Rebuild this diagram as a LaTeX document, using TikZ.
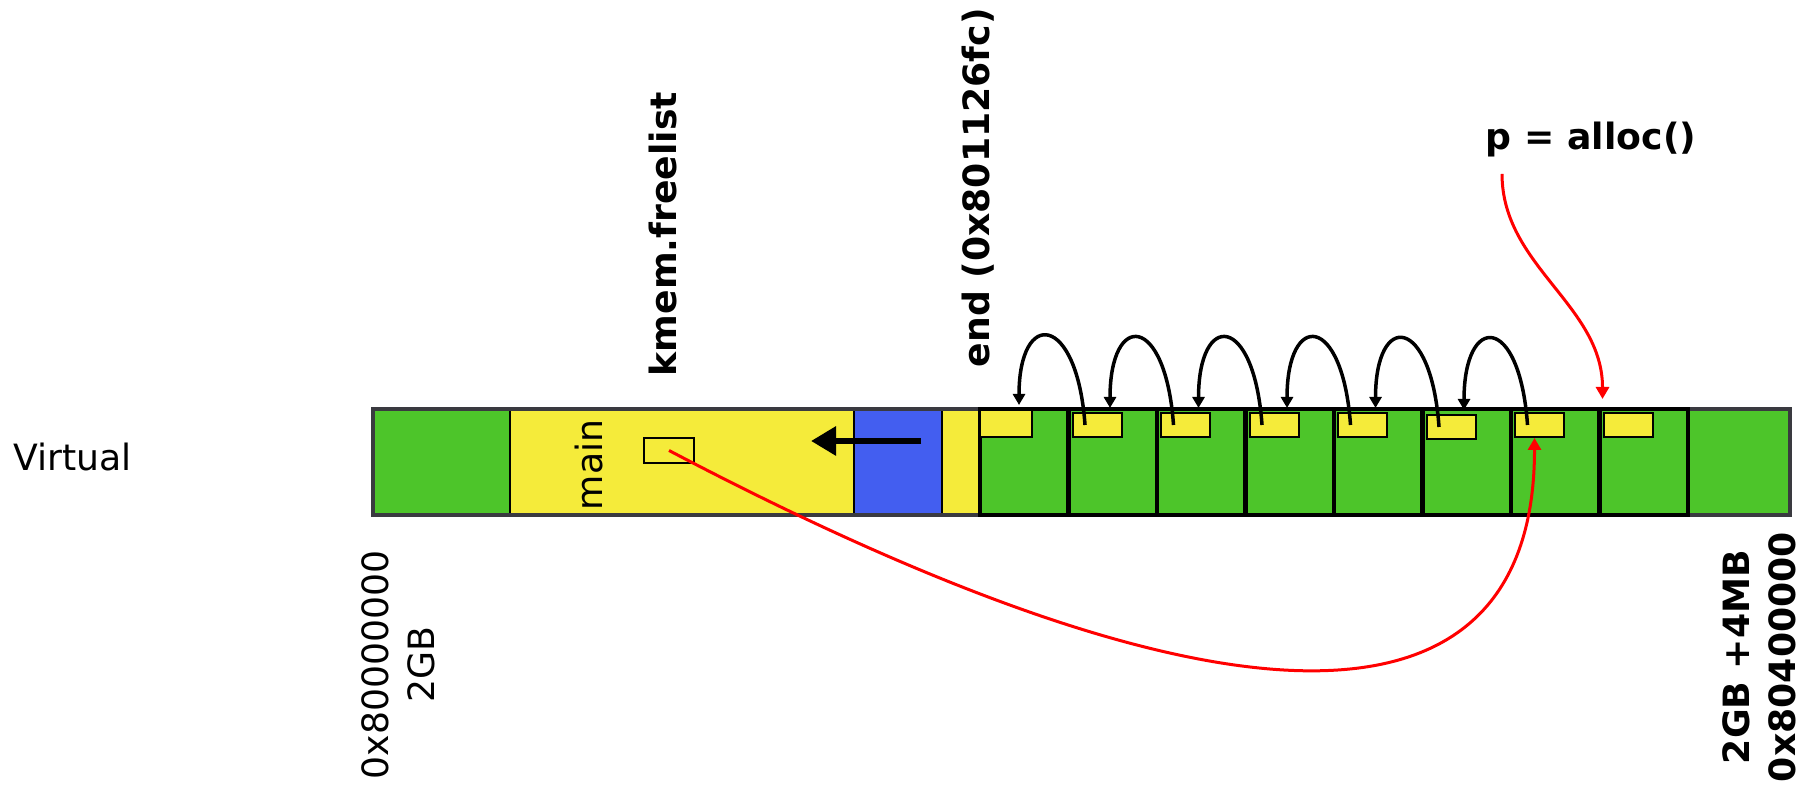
\documentclass[tikz,border=0pt]{standalone}
\usepackage{fontspec}
\setmainfont{DejaVu Sans}
\usetikzlibrary{arrows.meta}

\definecolor{pagegreen}{RGB}{77,197,42}
\definecolor{slotyellow}{RGB}{245,235,58}
\definecolor{kernblue}{RGB}{67,94,240}
\definecolor{barline}{RGB}{58,58,64}

\begin{document}
\begin{tikzpicture}[
    lbl/.style={inner sep=0pt, font=\fontsize{10.3pt}{13.1pt}\selectfont},
    bold lbl/.style={inner sep=0pt, font=\fontsize{10.3pt}{13.1pt}\selectfont\bfseries},
    slot/.style={draw=black, line width=0.2mm, fill=slotyellow, inner sep=0pt, minimum width=4.9mm, minimum height=2.4mm},
    page/.style={draw=black, line width=0.45mm, fill=pagegreen},
    link/.style={line width=0.35mm, -{Triangle[length=1.1mm,width=1.2mm]}},
    ptr/.style={red, line width=0.3mm, -{Triangle[length=1.2mm,width=1.3mm]}}
]
    \useasboundingbox (0,0) rectangle (18.14,7.86);

    % Virtual address bar
    \fill[pagegreen] (3.73,2.71) rectangle (5.10,3.77); % below kernel
    \filldraw[fill=slotyellow, draw=black, line width=0.2mm] (5.10,2.71) rectangle (8.54,3.77); % text
    \filldraw[fill=kernblue, draw=black, line width=0.2mm] (8.54,2.71) rectangle (9.42,3.77); % data
    \filldraw[fill=slotyellow, draw=black, line width=0.2mm] (9.42,2.71) rectangle (9.80,3.77);
    \fill[pagegreen] (16.88,2.71) rectangle (17.90,3.77); % above 4MB
    \draw[barline, line width=0.4mm] (3.73,2.71) rectangle (17.90,3.77);

    % Free pages
    \draw[page] (9.80,2.71) rectangle (10.685,3.77);
    \draw[page] (10.685,2.71) rectangle (11.57,3.77);
    \draw[page] (11.57,2.71) rectangle (12.455,3.77);
    \draw[page] (12.455,2.71) rectangle (13.34,3.77);
    \draw[page] (13.34,2.71) rectangle (14.225,3.77);
    \draw[page] (14.225,2.71) rectangle (15.11,3.77);
    \draw[page] (15.11,2.71) rectangle (15.995,3.77);
    \draw[page] (15.995,2.71) rectangle (16.88,3.77);

    % Next pointers in each page
    \node[slot, minimum width=5.2mm, minimum height=2.7mm] (y1) at (10.06,3.625) {};
    \node[slot] (y2) at (10.97,3.61) {};
    \node[slot] (y3) at (11.855,3.61) {};
    \node[slot] (y4) at (12.74,3.61) {};
    \node[slot] (y5) at (13.625,3.61) {};
    \node[slot] (y6) at (14.51,3.59) {};
    \node[slot] (y7) at (15.395,3.61) {};
    \node[slot] (y8) at (16.28,3.61) {};

    % Variable in main
    \node[slot, minimum width=5mm, minimum height=2.5mm] (mainslot) at (6.69,3.355) {};

    % Freelist links
    \draw[link] ([xshift=-1.2mm]y2.center) .. controls +(-0.08,1.12) and +(0,0.97) .. ([xshift=1.3mm,yshift=0.4mm]y1.north);
    \draw[link] ([xshift=-1.2mm]y3.center) .. controls +(-0.08,1.12) and +(0,0.97) .. ([xshift=1.3mm,yshift=0.4mm]y2.north);
    \draw[link] ([xshift=-1.2mm]y4.center) .. controls +(-0.08,1.12) and +(0,0.97) .. ([xshift=1.3mm,yshift=0.4mm]y3.north);
    \draw[link] ([xshift=-1.2mm]y5.center) .. controls +(-0.08,1.12) and +(0,0.97) .. ([xshift=1.3mm,yshift=0.4mm]y4.north);
    \draw[link] ([xshift=-1.2mm]y6.center) .. controls +(-0.08,1.12) and +(0,0.97) .. ([xshift=1.3mm,yshift=0.4mm]y5.north);
    \draw[link] ([xshift=-1.2mm]y7.center) .. controls +(-0.08,1.12) and +(0,0.97) .. ([xshift=1.3mm,yshift=0.4mm]y6.north);

    % Growth arrow
    \draw[line width=0.6mm, -{Triangle[length=2.5mm,width=2.8mm]}] (9.21,3.45) -- (8.11,3.45);

    % Labels
    \node[lbl, anchor=west] (virt) at (0.13,3.29) {Virtual};
    \node[lbl, rotate=90] (mainlbl) at (5.89,3.21) {main};
    \node[bold lbl, rotate=90, anchor=west] (freelist) at (6.63,4.09) {kmem.freelist};
    \node[bold lbl, rotate=90, anchor=west] (endlbl) at (9.78,4.18) {end (0x801126fc)};
    \node[bold lbl, anchor=base] (alloc) at (15.91,6.36) {p = alloc()};
    \node[lbl, rotate=90, align=center] (lo) at (3.98,1.21) {0x80000000\\2GB};
    \node[bold lbl, rotate=90, align=center] (hi) at (17.59,1.29) {2GB +4MB\\0x80400000};

    % Red pointers
    \coordinate (pstart) at (15.02,6.12);
    \draw[ptr] (pstart) .. controls +(0,-0.92) and +(0,0.94) .. ([yshift=1.3mm]y8.north west);
    \draw[ptr] (mainslot.center) .. controls +(5.25,-2.76) and +(0,-3.24) .. ([xshift=-0.5mm]y7.south);

\end{tikzpicture}
\end{document}
